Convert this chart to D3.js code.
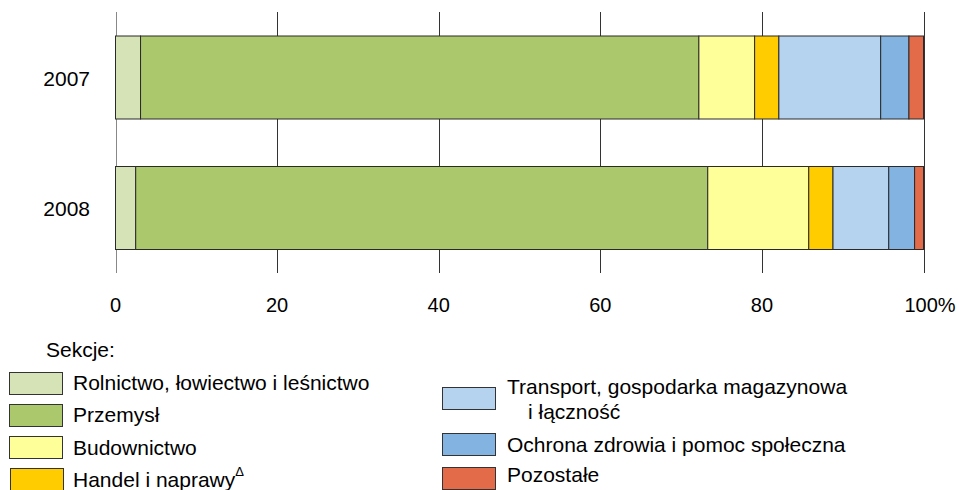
<!DOCTYPE html>
<html lang="pl">
<head>
    <meta charset="UTF-8">
    <title>Sekcje 2007-2008</title>
    <script src="https://d3js.org/d3.v7.min.js"></script>
    <style>
        body { margin: 0; background: #fff; }
        svg { font-family: "Liberation Sans", Arial, sans-serif; }
    </style>
</head>
<body>
    <svg width="959" height="490"></svg>
    <script>
        const years = ['2007', '2008'];
        const sections = [
            'Rolnictwo, łowiectwo i leśnictwo',
            'Przemysł',
            'Budownictwo',
            'Handel i naprawy',
            'Transport, gospodarka magazynowa i łączność',
            'Ochrona zdrowia i pomoc społeczna',
            'Pozostałe'
        ];
        const values2007 = [3.1, 69.1, 6.9, 3.0, 12.6, 3.5, 1.8];
        const values2008 = [2.5, 70.8, 12.5, 3.0, 6.9, 3.2, 1.1];
        const xTicks = [0, 20, 40, 60, 80, 100];
        const colors = ['#d5e3b6', '#acc86c', '#ffff99', '#ffcc00', '#b5d3ef', '#83b4e1', '#e36b4a'];

        const svg = d3.select('svg');

        const x = d3.scaleLinear().domain([0, 100]).range([115.5, 923.5]);
        const y = d3.scaleBand().domain(years).range([12.25, 273.25])
            .paddingInner(0.364).paddingOuter(0.182);

        // gridlines
        svg.append('g')
            .selectAll('line')
            .data(xTicks)
            .join('line')
            .attr('x1', d => Math.round(x(d)) + 0.5)
            .attr('x2', d => Math.round(x(d)) + 0.5)
            .attr('y1', 12)
            .attr('y2', 273)
            .attr('stroke', d => d === 0 ? '#888' : '#333')
            .attr('stroke-width', 1);

        // stacked bars
        const rows = [values2007, values2008];
        rows.forEach((vals, i) => {
            let acc = 0;
            const segs = vals.map((v, k) => {
                const s = {x0: acc, x1: acc + v, k};
                acc += v;
                return s;
            });
            svg.append('g')
                .selectAll('rect')
                .data(segs)
                .join('rect')
                .attr('x', d => x(d.x0))
                .attr('width', d => x(d.x1) - x(d.x0))
                .attr('y', y(years[i]))
                .attr('height', y.bandwidth())
                .attr('fill', d => colors[d.k])
                .attr('stroke', '#2a2a2a')
                .attr('stroke-width', 1);
        });

        // year labels
        svg.append('g')
            .selectAll('text')
            .data(years)
            .join('text')
            .attr('x', 90)
            .attr('y', d => y(d) + y.bandwidth() / 2 + 8)
            .attr('text-anchor', 'end')
            .attr('font-size', 21)
            .text(d => d);

        // x tick labels
        svg.append('g')
            .selectAll('text')
            .data(xTicks)
            .join('text')
            .attr('x', d => x(d))
            .attr('y', 312)
            .attr('text-anchor', d => d === 100 ? 'start' : 'middle')
            .attr('dx', d => d === 100 ? -19 : 0)
            .attr('font-size', 20)
            .text(d => d === 100 ? '100%' : d);

        // legend
        svg.append('text')
            .attr('x', 46).attr('y', 357)
            .attr('font-size', 21)
            .text('Sekcje:');

        const legendItems = [
            {k: 0, sx: 9, sy: 372, tx: 73, ty: 390, lines: [sections[0]]},
            {k: 1, sx: 9, sy: 404, tx: 73, ty: 422, lines: [sections[1]]},
            {k: 2, sx: 9, sy: 436, tx: 73, ty: 455, lines: [sections[2]]},
            {k: 3, sx: 10, sy: 468, tx: 73, ty: 487, lines: [sections[3]], sup: 'Δ'},
            {k: 4, sx: 442, sy: 387, tx: 507, ty: 394, lines: ['Transport, gospodarka magazynowa', 'i łączność']},
            {k: 5, sx: 442, sy: 433, tx: 507, ty: 452, lines: [sections[5]]},
            {k: 6, sx: 442, sy: 467, tx: 507, ty: 482, lines: [sections[6]]}
        ];

        const lg = svg.append('g');
        legendItems.forEach(it => {
            lg.append('rect')
                .attr('x', it.sx + 0.5).attr('y', it.sy + 0.5)
                .attr('width', 53).attr('height', 22)
                .attr('fill', colors[it.k])
                .attr('stroke', '#333')
                .attr('stroke-width', 1);
            const t = lg.append('text')
                .attr('x', it.tx).attr('y', it.ty)
                .attr('font-size', 21);
            it.lines.forEach((ln, j) => {
                t.append('tspan')
                    .attr('x', j === 0 ? it.tx : it.tx + 21)
                    .attr('dy', j === 0 ? 0 : 25)
                    .text(ln);
            });
            if (it.sup) {
                t.append('tspan')
                    .attr('font-size', 13)
                    .attr('dy', -11)
                    .text(it.sup);
            }
        });
    </script>
</body>
</html>
